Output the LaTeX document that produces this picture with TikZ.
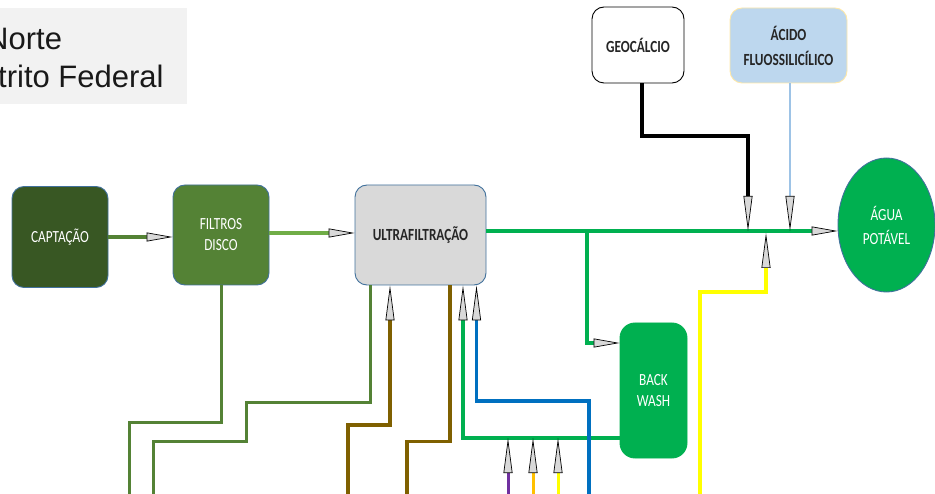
\documentclass[tikz,border=0pt]{standalone}
\usepackage{fontspec}
\setmainfont{Liberation Sans}
\newfontfamily\boxfont[FakeStretch=0.78]{Carlito}
\usetikzlibrary{shapes.geometric, arrows.meta, positioning, calc}
\definecolor{capgreen}{HTML}{385723}
\definecolor{filtgreen}{HTML}{548235}
\definecolor{lightgreen}{HTML}{70AD47}
\definecolor{aguagreen}{HTML}{00B050}
\definecolor{ultragray}{HTML}{D9D9D9}
\definecolor{boxblue}{HTML}{41719C}
\definecolor{acidblue}{HTML}{BDD7EE}
\definecolor{acidedge}{HTML}{FFE8A8}
\definecolor{acidline}{HTML}{9DC3E6}
\definecolor{textdark}{HTML}{262626}
\definecolor{brownline}{HTML}{7F6000}
\definecolor{blueline}{HTML}{0070C0}
\definecolor{yellowline}{HTML}{FFFF00}
\definecolor{orangeline}{HTML}{FFC000}
\definecolor{purpleline}{HTML}{7030A0}
\definecolor{infogray}{HTML}{F2F2F2}
\begin{document}
\begin{tikzpicture}[
  x=1pt, y=-1pt,
  font=\boxfont\fontsize{17}{21}\selectfont,
  procbox/.style={
    rectangle, rounded corners=12pt, draw=boxblue, line width=0.9pt,
    text=white, align=center, inner sep=2pt
  },
  darkbox/.style={
    procbox, text=textdark, font=\boxfont\fontsize{17}{21}\selectfont\bfseries
  },
  infotext/.style={
    inner sep=0pt, text=black!90, font=\normalfont\fontsize{31}{36}\selectfont
  },
  harrow/.style={-{Triangle[length=26pt, width=9pt, fill=gray!30, color=black, line width=0.7pt]}},
  varrow/.style={-{Triangle[length=35pt, width=9pt, fill=gray!30, color=black, line width=0.7pt]}},
  pipe/.style={line width=3.5pt},
  feed/.style={line width=3pt}
]
\useasboundingbox (0,0) rectangle (935,494);
\node[fill=infogray, minimum width=187pt, minimum height=96pt, anchor=north west, inner sep=0pt] (info) at (0,8) {};
\node[infotext, anchor=base west] (l1) at (-14,50) {Norte};
\node[infotext, anchor=base west] (l2) at (-2,88) {trito Federal};

\node[procbox, fill=capgreen, minimum width=96pt, minimum height=101pt] (capt) at (60,237) {CAPTAÇÃO};
\node[procbox, fill=filtgreen, minimum width=96pt, minimum height=100pt] (filt) at (221,235) {FILTROS\\DISCO};
\node[darkbox, fill=ultragray, minimum width=131pt, minimum height=100pt] (ultra) at (420.5,235) {ULTRAFILTRAÇÃO};
\node[darkbox, fill=white, draw=black, minimum width=92pt, minimum height=76pt] (geo) at (638,45) {GEOCÁLCIO};
\node[darkbox, fill=acidblue, draw=acidedge, minimum width=117pt, minimum height=75pt] (acido) at (788.5,45.5) {ÁCIDO\\[4pt]FLUOSSILICÍLICO};
\node[ellipse, fill=aguagreen, draw=boxblue, line width=0.9pt, text=white, align=center, minimum width=97pt, minimum height=134pt] (agua) at (886.5,225) {ÁGUA\\[3pt]POTÁVEL};
\node[procbox, fill=aguagreen, draw=aguagreen, rounded corners=15pt, minimum width=67pt, minimum height=135pt] (back) at (653.5,390.5) {BACK\\WASH};

\coordinate (jback) at (587,231);
\coordinate (jgeo) at (748,231);
\coordinate (jyel) at (766,233);
\coordinate (jacid) at (790,231);
\coordinate (jret) at (587,438);
\coordinate (ybot) at (700,494);
\coordinate (bbot) at (589,494);
\coordinate (br1) at (348,494);
\coordinate (br2) at (407,494);
\coordinate (g1) at (129,494);
\coordinate (g2) at (153,494);

\draw[line width=4pt, draw=filtgreen, harrow] (capt.east) -- (capt.east -| filt.west);
\draw[line width=4pt, draw=lightgreen, harrow] ([yshift=2pt]filt.east) -- ([yshift=2pt]filt.east -| ultra.west);
\draw[pipe, draw=aguagreen, harrow] ([yshift=4pt]ultra.east) -- ([yshift=4pt]ultra.east -| agua.west);
\draw[line width=4pt, draw=black, varrow] ([xshift=4pt]geo.south) -- ++(0,53) -| (jgeo);
\draw[line width=2pt, draw=acidline, varrow] (acido.south -| jacid) -- (jacid);
\draw[line width=4pt, draw=yellowline, varrow] (ybot) -- ++(0,-202) -| (jyel);
\draw[pipe, draw=aguagreen, harrow] (jback) |- ([yshift=47.5pt]back.west);
\draw[pipe, draw=aguagreen, varrow] ([yshift=-47.5pt]back.west) -| ([xshift=42.5pt]ultra.south);
\draw[pipe, draw=blueline, varrow] (bbot) -- ++(0,-93) -| ([xshift=56pt]ultra.south);
\draw[pipe, draw=brownline, varrow] (br1) -- ++(0,-69) -| ([xshift=-30.5pt]ultra.south);
\draw[pipe, draw=brownline] ([xshift=29.5pt]ultra.south) -- ++(0,156) -| (br2);
\draw[feed, draw=filtgreen] (filt.south) -- ++(0,137) -| (g1);
\draw[feed, draw=filtgreen] ([xshift=-50.5pt]ultra.south) -- ++(0,117) -| ++(-124,39) -| (g2);
\foreach \i/\x/\c in {1/508/purpleline, 2/533/orangeline, 3/558/yellowline}{
  \coordinate (in\i) at (\x,494);
  \draw[feed, draw=\c, varrow] (in\i) -- (in\i |- jret);
}
\end{tikzpicture}
\end{document}
